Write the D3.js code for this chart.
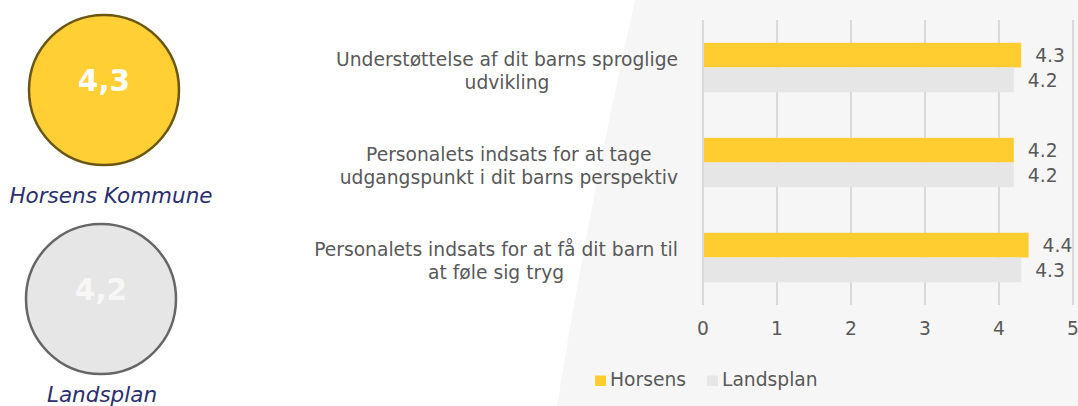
<!DOCTYPE html>
<html>
<head>
<meta charset="utf-8">
<title>Horsens vs Landsplan</title>
<style>
    body { margin: 0; background: #fff; }
    svg { display: block; font-family: "DejaVu Sans", Verdana, sans-serif; }
</style>
</head>
<body>
<script src="https://cdn.jsdelivr.net/npm/d3@7/dist/d3.min.js"></script>
<script>
    // data
    var categories = [
        ["Understøttelse af dit barns sproglige", "udvikling"],
        ["Personalets indsats for at tage", "udgangspunkt i dit barns perspektiv"],
        ["Personalets indsats for at få dit barn til", "at føle sig tryg"]
    ];
    var seriesNames = ["Horsens", "Landsplan"];
    var horsens = [4.3, 4.2, 4.4];
    var landsplan = [4.2, 4.2, 4.3];
    var xTicks = [0, 1, 2, 3, 4, 5];
    var circleValues = ["4,3", "4,2"];
    var circleNames = ["Horsens Kommune", "Landsplan"];

    var width = 1078, height = 406;
    var colors = ["#ffcd2f", "#e6e6e6"];
    var textColor = "#595959";
    var fs = 18.7;

    var svg = d3.select("body").append("svg")
        .attr("width", width)
        .attr("height", height);

    // grey panel behind the chart
    svg.append("path")
        .attr("d", "M635,0 L1078,0 L1078,406 L557,406 Q590,200 635,0 Z")
        .attr("fill", "#f6f6f6");

    var x = d3.scaleLinear().domain([0, 5]).range([703, 1073]);
    var y = d3.scaleBand()
        .domain(d3.range(categories.length))
        .range([20, 305])
        .paddingInner(0.48)
        .paddingOuter(0.24);
    var ySub = d3.scaleBand()
        .domain(seriesNames)
        .range([0, y.bandwidth()]);

    // gridlines
    svg.selectAll(".grid")
        .data(xTicks)
        .enter()
        .append("line")
        .attr("x1", function(d){ return x(d); })
        .attr("x2", function(d){ return x(d); })
        .attr("y1", 20)
        .attr("y2", 305)
        .attr("stroke", "#d9d9d9")
        .attr("stroke-width", 2);

    // tick labels
    svg.selectAll(".tick")
        .data(xTicks)
        .enter()
        .append("text")
        .attr("x", function(d){ return x(d); })
        .attr("y", 335)
        .attr("text-anchor", "middle")
        .attr("font-size", fs)
        .attr("fill", textColor)
        .text(function(d){ return d; });

    var rows = [];
    categories.forEach(function(c, i){
        rows.push({cat: i, s: seriesNames[0], v: horsens[i], c: colors[0]});
        rows.push({cat: i, s: seriesNames[1], v: landsplan[i], c: colors[1]});
    });

    // bars
    svg.selectAll(".bar")
        .data(rows)
        .enter()
        .append("rect")
        .attr("x", x(0) + 1)
        .attr("y", function(d){ return y(d.cat) + ySub(d.s); })
        .attr("width", function(d){ return x(d.v) - x(0) - 1; })
        .attr("height", ySub.bandwidth())
        .attr("fill", function(d){ return d.c; });

    // value labels
    svg.selectAll(".val")
        .data(rows)
        .enter()
        .append("text")
        .attr("x", function(d){ return x(d.v) + 14; })
        .attr("y", function(d){ return y(d.cat) + ySub(d.s) + ySub.bandwidth() / 2; })
        .attr("dy", "0.36em")
        .attr("font-size", fs)
        .attr("fill", textColor)
        .text(function(d){ return d.v.toFixed(1); });

    // category labels (two lines, centred, block right aligned)
    categories.forEach(function(lines, i){
        var cy = y(i) + y.bandwidth() / 2;
        var g = svg.append("g");
        var t = g.selectAll("text")
            .data(lines)
            .enter()
            .append("text")
            .attr("y", function(d, j){ return cy - 2 + j * 23; })
            .attr("text-anchor", "middle")
            .attr("font-size", fs)
            .attr("fill", textColor)
            .text(function(d){ return d; });
        var maxW = d3.max(t.nodes(), function(n){ return n.getComputedTextLength(); });
        t.attr("x", 678 - maxW / 2);
    });

    // legend
    var legX = [595, 707];
    seriesNames.forEach(function(s, i){
        svg.append("rect")
            .attr("x", legX[i])
            .attr("y", 375.5)
            .attr("width", 11)
            .attr("height", 10.5)
            .attr("fill", colors[i]);
        svg.append("text")
            .attr("x", legX[i] + 15)
            .attr("y", 386)
            .attr("font-size", fs)
            .attr("fill", textColor)
            .text(s);
    });

    // summary circles
    var circ = [
        {cx: 104, cy: 90, fill: "#ffcf33", stroke: "#6b5714", tc: "#ffffff", ny: 203},
        {cx: 101, cy: 299, fill: "#e6e6e6", stroke: "#666666", tc: "#f7f7f7", ny: 402}
    ];
    circ.forEach(function(c, i){
        svg.append("circle")
            .attr("cx", c.cx)
            .attr("cy", c.cy)
            .attr("r", 75)
            .attr("fill", c.fill)
            .attr("stroke", c.stroke)
            .attr("stroke-width", 2.5);
        svg.append("text")
            .attr("x", c.cx)
            .attr("y", c.cy + 1)
            .attr("text-anchor", "middle")
            .attr("font-size", 29.5)
            .attr("font-weight", "bold")
            .attr("fill", c.tc)
            .text(circleValues[i]);
        svg.append("text")
            .attr("x", i == 0 ? 111 : 102)
            .attr("y", c.ny)
            .attr("text-anchor", "middle")
            .attr("font-size", 21.5)
            .attr("font-style", "italic")
            .attr("fill", "#2b2f6e")
            .text(circleNames[i]);
    });
</script>
</body>
</html>
